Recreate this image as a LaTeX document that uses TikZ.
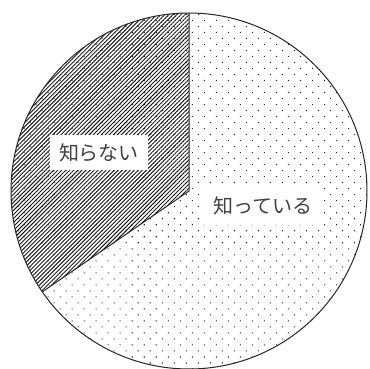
\documentclass[tikz,border=0pt]{standalone}
\usepackage{fontspec}
\newfontfamily\jpfont{Noto Sans CJK JP}
\usetikzlibrary{patterns.meta}
\tikzset{
  lab/.style={fill=white, inner sep=0pt, text=black!75,
    font=\jpfont\fontsize{20}{20}\selectfont},
  rim/.style={line width=1pt, draw=black!85},
}
\begin{document}
\begin{tikzpicture}[x=1pt,y=1pt]
\useasboundingbox (0,0) rectangle (370,-369);
\coordinate (O) at (189,-191);
\fill[pattern={Dots[distance=8.5pt,radius=0.75pt,angle=45]}, pattern color=black!85] (O) circle (178);
\fill[pattern={Lines[angle=45,distance=2.85pt,line width=0.95pt]}, pattern color=black!90] (O) -- ++(90:178) arc (90:214.5:178) -- cycle;
\draw[rim] (O) circle (178);
\draw[rim] (O) ++(90:178) coordinate (T) -- (O) -- ++(214.5:178) coordinate (L);
\node[lab, minimum width=98pt, minimum height=35pt] (unk) at (99,-152.5) {知らない};
\node[lab, minimum width=120pt, minimum height=38pt] (kn) at (263,-206) {知っている};
\end{tikzpicture}
\end{document}
